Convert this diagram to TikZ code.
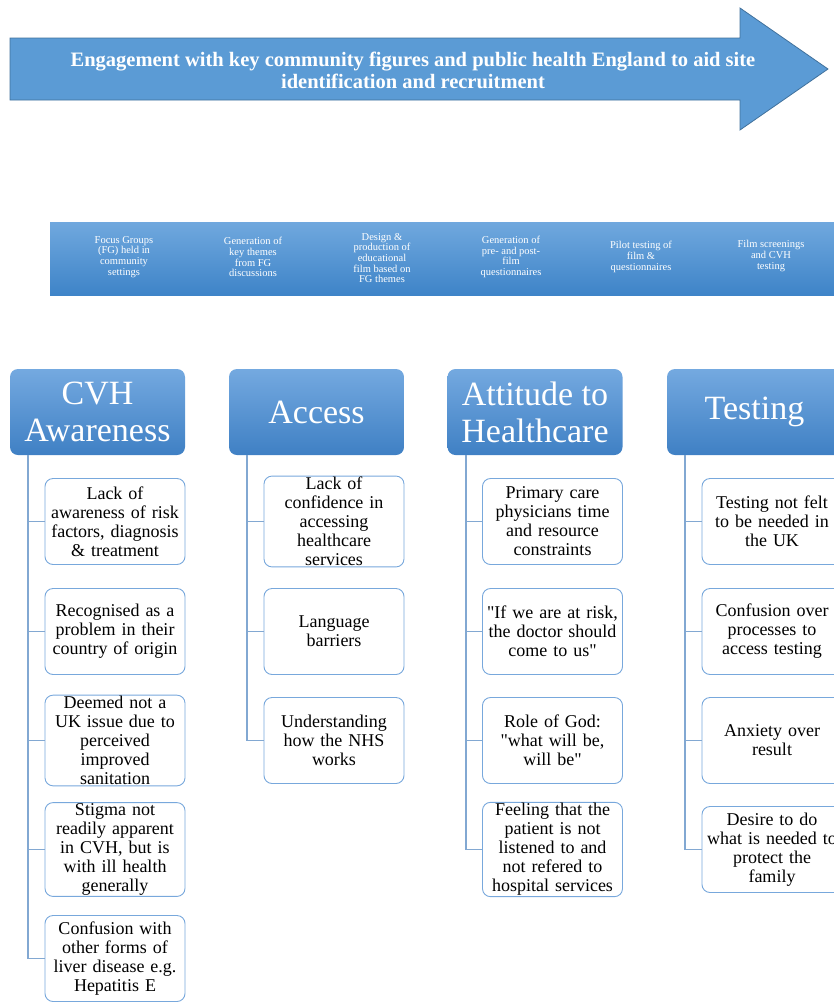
\documentclass[tikz,border=0pt]{standalone}
\usepackage{fontspec}
\setmainfont{Liberation Serif}
\definecolor{arrowfill}{HTML}{5B9BD5}
\definecolor{arrowline}{HTML}{41719C}
\definecolor{hdrtop}{HTML}{74A9E0}
\definecolor{hdrbot}{HTML}{3F80C4}
\definecolor{bandtop}{HTML}{70A8DE}
\definecolor{bandbot}{HTML}{3E84C8}
\definecolor{itemborder}{HTML}{78A8DC}
\definecolor{connc}{HTML}{82A8D2}
\begin{document}
\begin{tikzpicture}[x=1pt,y=-1pt,
  hdr/.style={rounded corners=8pt, top color=hdrtop, bottom color=hdrbot, draw=none,
    minimum width=175pt, minimum height=86pt, text=white, align=center, inner sep=0pt,
    font=\fontsize{34}{37}\selectfont},
  item/.style={rounded corners=8pt, draw=itemborder, line width=0.9pt, fill=white,
    minimum width=140pt, minimum height=86pt, text width=138pt, align=center, inner sep=1pt,
    font=\fontsize{18}{19}\selectfont},
  conn/.style={draw=connc, line width=1.3pt},
  stxt/.style={text=white, align=center, font=\fontsize{10.5}{10.7}\selectfont, inner sep=0pt},
  ttl/.style={text=white, align=center, font=\fontsize{20.5}{22}\selectfont\bfseries, inner sep=0pt}
]
\useasboundingbox (0,0) rectangle (834,1002);
\clip (0,0) rectangle (834,1002);

% top arrow
\draw[fill=arrowfill, draw=arrowline, line width=0.8pt]
  (10,38) -- (740,38) -- (740,8) -- (828,69) -- (740,130) -- (740,100) -- (10,100) -- cycle;
\node[ttl] (title) at (413,70) {Engagement with key community figures and public health England to aid site\\identification and recruitment};

% process band
\fill[top color=bandtop, bottom color=bandbot] (50,222) rectangle (840,295);
\node[stxt] (s1) at (124,257) {Focus Groups\\(FG) held in\\community\\settings};
\node[stxt] (s2) at (253,257) {Generation of\\key themes\\from FG\\discussions};
\node[stxt] (s3) at (382,258) {Design \&\\production of\\educational\\film based on\\FG themes};
\node[stxt] (s4) at (511,257) {Generation of\\pre- and post-\\film\\questionnaires};
\node[stxt] (s5) at (641,257) {Pilot testing of\\film \&\\questionnaires};
\node[stxt] (s6) at (771,256) {Film screenings\\and CVH\\testing};

% headers
\node[hdr] (h1) at (97.5,412) {CVH\\Awareness};
\node[hdr] (h2) at (316.5,412) {Access};
\node[hdr] (h3) at (535,412) {Attitude to\\Healthcare};
\node[hdr] (h4) at (754.5,412) {Testing};

\coordinate (v1) at (28,455);
\coordinate (v2) at (247,455);
\coordinate (v3) at (466,455);
\coordinate (v4) at (685,455);

% CVH Awareness
\node[item] (a1) at (115,521.5) {Lack of\\awareness of risk\\factors, diagnosis\\\& treatment};
\node[item] (a2) at (115,631.5) {Recognised as a\\problem in their\\country of origin};
\node[item] (a3) at (115,740.5) {Deemed not a\\UK issue due to\\perceived\\improved\\sanitation};
\node[item] (a4) at (115,849.5) {Stigma not\\readily apparent\\in CVH, but is\\with ill health\\generally};
\node[item] (a5) at (115,958.5) {Confusion with\\other forms of\\liver disease e.g.\\Hepatitis E};

% Access
\node[item] (b1) at (334,521.5) {Lack of\\confidence in\\accessing\\healthcare\\services};
\node[item] (b2) at (334,631.5) {Language\\barriers};
\node[item] (b3) at (334,740.5) {Understanding\\how the NHS\\works};

% Attitude
\node[item] (c1) at (552.5,521.5) {Primary care\\physicians time\\and resource\\constraints};
\node[item] (c2) at (552.5,631.5) {\textquotedbl If we are at risk,\\the doctor should\\come to us\textquotedbl};
\node[item] (c3) at (552.5,740.5) {Role of God:\\\textquotedbl what will be,\\will be\textquotedbl};
\node[item] (c4) at (552.5,849.5) {Feeling that the\\patient is not\\listened to and\\not refered to\\hospital services};

% Testing
\node[item] (d1) at (772,521.5) {Testing not felt\\to be needed in\\the UK};
\node[item] (d2) at (772,631.5) {Confusion over\\processes to\\access testing};
\node[item] (d3) at (772,740.5) {Anxiety over\\result};
\node[item] (d4) at (772,849.5) {Desire to do\\what is needed to\\protect the\\family};

% connectors
\foreach \c in {a1,a2,a3,a4,a5} \draw[conn] (v1) |- (\c.west);
\foreach \c in {b1,b2,b3} \draw[conn] (v2) |- (\c.west);
\foreach \c in {c1,c2,c3,c4} \draw[conn] (v3) |- (\c.west);
\foreach \c in {d1,d2,d3,d4} \draw[conn] (v4) |- (\c.west);
\end{tikzpicture}
\end{document}
